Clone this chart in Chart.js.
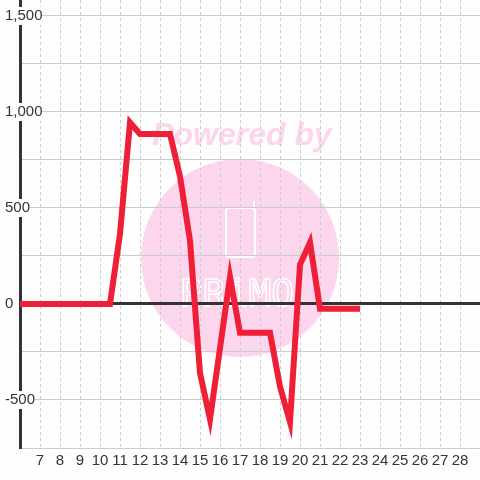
<!DOCTYPE html>
<html>
<head>
<meta charset="utf-8">
<script src="https://cdn.jsdelivr.net/npm/chart.js@4/dist/chart.umd.min.js"></script>
<style>
  html, body { margin: 0; padding: 0; background: #fdfefd; }
  #chart { display: block; }
</style>
</head>
<body>
<canvas id="chart" width="480" height="480"></canvas>
<script>
// x positions of the samples (half steps)
const xValues = [6, 6.5, 7, 7.5, 8, 8.5, 9, 9.5, 10, 10.5,
                 11, 11.5, 12, 12.5, 13, 13.5, 14, 14.5, 15, 15.5,
                 16, 16.5, 17, 17.5, 18, 18.5, 19, 19.5, 20, 20.5,
                 21, 21.5, 22, 22.5, 23];
const seriesValues = [0, 0, 0, 0, 0, 0, 0, 0, 0, 0,
                      365, 945, 885, 885, 885, 885, 665, 330, -360, -600,
                      -230, 140, -150, -150, -150, -150, -430, -615, 205, 320,
                      -25, -25, -25, -25, -25];
const yTickLabels = [-500, 0, 500, 1000, 1500];
const xTickLabels = [7, 8, 9, 10, 11, 12, 13, 14, 15, 16, 17, 18, 19, 20,
                     21, 22, 23, 24, 25, 26, 27, 28];

const BG = '#fdfefd';
const AXIS = '#333333';
const GRID = '#cccccc';
const PINK = '#fcd6ec';

const points = xValues.map((x, i) => ({ x: x, y: seriesValues[i] }));

// background + faded watermark, drawn under the grid
const watermark = {
    id: 'watermark',
    beforeDraw(chart) {
        const ctx = chart.ctx;
        ctx.save();
        ctx.fillStyle = BG;
        ctx.fillRect(0, 0, chart.width, chart.height);

        ctx.fillStyle = PINK;
        ctx.beginPath();
        ctx.arc(240, 258, 99, 0, Math.PI * 2);
        ctx.fill();

        ctx.font = 'italic bold 32px "Liberation Sans", Arial, sans-serif';
        ctx.textAlign = 'center';
        ctx.textBaseline = 'alphabetic';
        ctx.fillText('Powered by', 242, 145);

        // phone outline
        ctx.strokeStyle = '#ffffff';
        ctx.lineWidth = 2;
        ctx.beginPath();
        ctx.roundRect(226, 208, 29, 49, 3);
        ctx.stroke();
        ctx.beginPath();
        ctx.moveTo(254, 208);
        ctx.lineTo(254, 201);
        ctx.stroke();

        ctx.font = '38px "DejaVu Sans Mono", monospace';
        ctx.lineWidth = 1.5;
        ctx.strokeText('PRiMO', 237, 306);
        ctx.restore();
    }
};

new Chart(document.getElementById('chart'), {
    type: 'line',
    data: {
        datasets: [{
            data: points,
            borderColor: '#ee1f36',
            borderWidth: 6,
            pointRadius: 0,
            tension: 0,
            fill: false
        }]
    },
    options: {
        responsive: false,
        animation: false,
        devicePixelRatio: 1,
        layout: { padding: { left: 5, top: 0, right: 0, bottom: 0 } },
        plugins: {
            legend: { display: false },
            tooltip: { enabled: false }
        },
        scales: {
            x: {
                type: 'linear',
                min: 6,
                max: 29,
                afterFit(scale) {
                    scale.height = 32;
                    scale.paddingLeft = 0;
                    scale.paddingRight = 0;
                },
                grid: {
                    color: GRID,
                    lineWidth: 1,
                    drawTicks: false
                },
                border: { display: false, dash: [3, 3] },
                ticks: {
                    stepSize: 1,
                    autoSkip: false,
                    maxRotation: 0,
                    padding: 4,
                    color: AXIS,
                    font: { family: '"Liberation Sans", Arial, sans-serif', size: 15 },
                    callback: v => xTickLabels.includes(v) ? String(v) : ''
                }
            },
            y: {
                type: 'linear',
                min: -750,
                max: 1583,
                afterFit(scale) {
                    scale.width = 15;
                    scale.paddingTop = 0;
                    scale.paddingBottom = 0;
                },
                grid: {
                    drawTicks: false,
                    color: c => c.tick.value === 0 ? AXIS : GRID,
                    lineWidth: c => c.tick.value === 0 ? 3 : 1
                },
                border: { display: true, color: AXIS, width: 3 },
                ticks: {
                    stepSize: 250,
                    includeBounds: false,
                    autoSkip: false,
                    mirror: true,
                    padding: -15,
                    color: AXIS,
                    font: { family: '"Liberation Sans", Arial, sans-serif', size: 15 },
                    showLabelBackdrop: c => yTickLabels.includes(c.tick.value),
                    backdropColor: BG,
                    backdropPadding: c => c.tick.value === 1500
                        ? { top: 16, bottom: 0, left: 1, right: 2 }
                        : { top: 0, bottom: 0, left: 1, right: 2 },
                    callback: v => yTickLabels.includes(v) ? v.toLocaleString('en-US') : ''
                }
            }
        }
    },
    plugins: [watermark]
});
</script>
</body>
</html>
